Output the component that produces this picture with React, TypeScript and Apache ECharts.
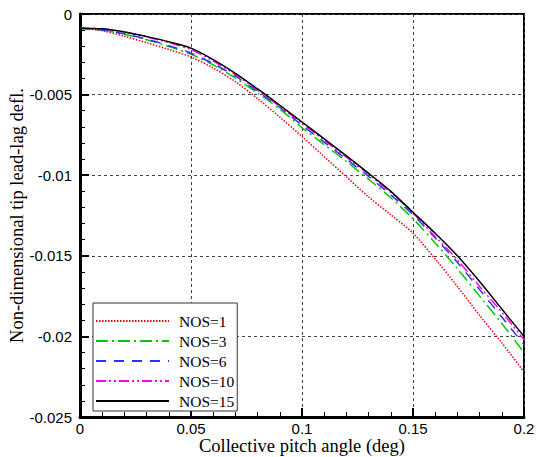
import React, { useEffect, useRef } from "react";
import * as echarts from "echarts";

const pitch = [0, 0.01, 0.02, 0.03, 0.04, 0.05, 0.06, 0.07, 0.08, 0.09, 0.1, 0.11, 0.12, 0.13, 0.14, 0.15, 0.16, 0.17, 0.18, 0.19, 0.2];

const nos1 = [-0.00088, -0.00104, -0.00138, -0.00178, -0.0022, -0.00267, -0.00335, -0.0042, -0.00525, -0.0064, -0.0076, -0.00885, -0.0101, -0.01135, -0.01245, -0.0136, -0.0152, -0.0169, -0.0187, -0.0204, -0.0222];
const nos3 = [-0.00088, -0.001, -0.00126, -0.0016, -0.00202, -0.0025, -0.00316, -0.00398, -0.0049, -0.0059, -0.00705, -0.0081, -0.00915, -0.01025, -0.0114, -0.0127, -0.0142, -0.0158, -0.0175, -0.0192, -0.021];
const nos6 = [-0.00088, -0.00099, -0.00123, -0.00156, -0.00196, -0.00243, -0.00308, -0.00386, -0.0048, -0.0058, -0.0069, -0.00795, -0.009, -0.01008, -0.01122, -0.01245, -0.0139, -0.0154, -0.0171, -0.0188, -0.0205];
const nos10 = [-0.00088, -0.00093, -0.00112, -0.00142, -0.00178, -0.00221, -0.00292, -0.00376, -0.00472, -0.00574, -0.00678, -0.00783, -0.00888, -0.00995, -0.01108, -0.01235, -0.0138, -0.01525, -0.0169, -0.0185, -0.0202];
const nos15 = [-0.00088, -0.00092, -0.00111, -0.0014, -0.00172, -0.00212, -0.00283, -0.00368, -0.00465, -0.00566, -0.0067, -0.00775, -0.0088, -0.00988, -0.011, -0.0123, -0.0136, -0.015, -0.0166, -0.0183, -0.02];

const seriesNames = ["NOS=1", "NOS=3", "NOS=6", "NOS=10", "NOS=15"];
const seriesValues = [nos1, nos3, nos6, nos10, nos15];
const seriesColors = ["#e8000b", "#00c800", "#3030ff", "#ff00ff", "#000000"];
const seriesDash: any[] = [[1.5, 1.5], [12, 4, 2, 4], [10, 8], [10, 3, 2, 3, 2, 3], "solid"];

const xTitle = "Collective pitch angle (deg)";
const yTitle = "Non-dimensional tip lead-lag defl.";

const SERIF = "'Liberation Serif', 'Times New Roman', serif";
const SANS = "'Liberation Sans', Arial, sans-serif";

const fmt = (v: number) => String(Number(v.toFixed(4)));

export default function App() {
  const ref = useRef<HTMLDivElement>(null);
  useEffect(() => {
    if (!ref.current) return;
    const chart = echarts.init(ref.current, undefined, { renderer: "svg" });
    const axisCommon = {
      type: "value" as const,
      axisLine: { show: true, onZero: false, lineStyle: { color: "#000", width: 3 } },
      axisTick: { show: true, inside: true, length: 9, lineStyle: { color: "#000", width: 2 } },
      minorTick: { show: true, splitNumber: 5, length: 5, lineStyle: { color: "#000", width: 1 } },
      splitLine: { show: true, lineStyle: { color: "#444", width: 1, type: [3, 3] } },
      axisLabel: { color: "#000", fontSize: 15, fontFamily: SANS, formatter: fmt },
      nameTextStyle: { color: "#000", fontSize: 18.5, fontFamily: SERIF },
      nameLocation: "middle" as const,
      nameMoveOverlap: false,
    };
    chart.setOption({
      animation: false,
      backgroundColor: "#fff",
      grid: {
        left: 80,
        top: 14,
        right: 14,
        bottom: 40,
        containLabel: false,
        outerBoundsMode: "none",
        show: true,
        borderColor: "#000",
        borderWidth: 2,
        backgroundColor: "transparent",
      },
      xAxis: {
        ...axisCommon,
        min: 0,
        max: 0.2,
        interval: 0.05,
        name: xTitle,
        nameGap: 19,
        axisLabel: { ...axisCommon.axisLabel, margin: 4 },
      },
      yAxis: {
        ...axisCommon,
        min: -0.025,
        max: 0,
        interval: 0.005,
        name: yTitle,
        nameGap: 54,
        nameRotate: 90,
        axisLabel: { ...axisCommon.axisLabel, margin: 8 },
      },
      legend: {
        show: true,
        orient: "vertical",
        left: 93,
        top: 303,
        itemWidth: 73,
        itemHeight: 14,
        itemGap: 4,
        padding: [10, 3, 2, 2],
        borderColor: "#333",
        borderWidth: 1,
        backgroundColor: "#fff",
        data: seriesNames,
        itemStyle: { opacity: 0 },
        textStyle: { color: "#000", fontSize: 15.5, fontFamily: SERIF, lineHeight: 15, padding: [0, 0, 0, 5] },
      },
      series: seriesNames.map((name, i) => ({
        name,
        type: "line",
        data: pitch.map((x, j) => [x, seriesValues[i][j]]),
        symbol: "none",
        smooth: 0.3,
        color: seriesColors[i],
        lineStyle: { color: seriesColors[i], width: 1.5, type: seriesDash[i] },
        z: 2 + i,
      })),
    });
    return () => chart.dispose();
  }, []);
  return (
    <div
      ref={ref}
      style={{ position: "fixed", left: 0, top: 0, width: 538, height: 457, background: "#fff" }}
    />
  );
}
